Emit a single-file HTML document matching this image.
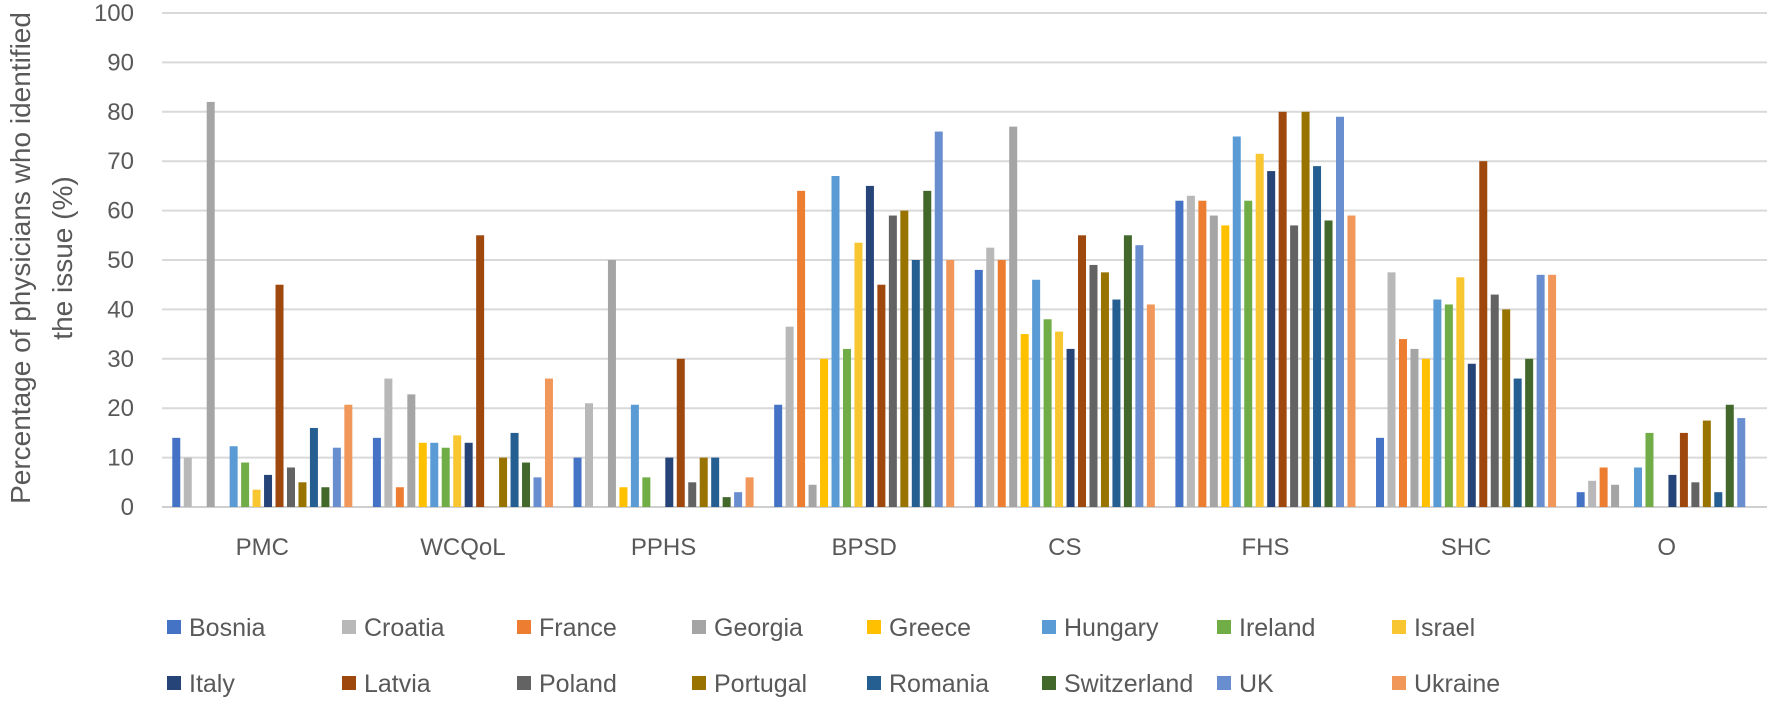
<!DOCTYPE html>
<html><head><meta charset="utf-8"><style>
html,body{margin:0;padding:0;background:#fff;}
svg{display:block;font-family:"Liberation Sans",sans-serif;}
</style></head><body>
<svg id="chart" width="1772" height="702" viewBox="0 0 1772 702" xmlns="http://www.w3.org/2000/svg">
<g id="grid"></g>
<g id="yticks"></g>
<g id="bars"></g>
<g id="xlabels"></g>
<g id="legend"></g>
<text transform="translate(40,258) rotate(-90)" text-anchor="middle" font-size="28" fill="#595959"><tspan x="0" y="-10">Percentage of physicians who identified</tspan><tspan x="0" y="32">the issue (%)</tspan></text>
</svg>
<script>
const categories = ["PMC","WCQoL","PPHS","BPSD","CS","FHS","SHC","O"];
const countries = ["Bosnia","Croatia","France","Georgia","Greece","Hungary","Ireland","Israel","Italy","Latvia","Poland","Portugal","Romania","Switzerland","UK","Ukraine"];
const colors = ["#4472C4","#B8B8B8","#ED7D31","#A5A5A5","#FFC000","#5B9BD5","#70AD47","#F8C631","#264478","#9E480E","#636363","#997300","#255E91","#43682B","#698ED0","#F1975A"];
const PMC   = [14,10,0,82,0,12.3,9,3.5,6.5,45,8,5,16,4,12,20.7];
const WCQoL = [14,26,4,22.8,13,13,12,14.5,13,55,0,10,15,9,6,26];
const PPHS  = [10,21,0,50,4,20.7,6,0,10,30,5,10,10,2,3,6];
const BPSD  = [20.7,36.5,64,4.5,30,67,32,53.5,65,45,59,60,50,64,76,50];
const CS    = [48,52.5,50,77,35,46,38,35.5,32,55,49,47.5,42,55,53,41];
const FHS   = [62,63,62,59,57,75,62,71.5,68,80,57,80,69,58,79,59];
const SHC   = [14,47.5,34,32,30,42,41,46.5,29,70,43,40,26,30,47,47];
const O     = [3,5.3,8,4.5,0,8,15,0,6.5,15,5,17.5,3,20.7,18,0];
const seriesByCategory = [PMC,WCQoL,PPHS,BPSD,CS,FHS,SHC,O];
const yTicks = [0,10,20,30,40,50,60,70,80,90,100];

const NS="http://www.w3.org/2000/svg";
const X0=162, X1=1767, Y0=507, Y100=13;
const groupW=(X1-X0)/categories.length;
const pitch=11.47, barW=8;
function y(v){return Y0-(Y0-Y100)*v/100;}
function xBar(ci,si){return X0+ci*groupW+(groupW-pitch*countries.length)/2+si*pitch+(pitch-barW)/2;}
function mk(tag,attrs,parent){const e=document.createElementNS(NS,tag);for(const k in attrs)e.setAttribute(k,attrs[k]);parent.appendChild(e);return e;}

const grid=document.getElementById('grid'), yt=document.getElementById('yticks');
yTicks.forEach(t=>{
  const l=mk('line',{x1:X0,x2:X1,y1:y(t),y2:y(t),stroke:t===0?'#cfcfcf':'#d9d9d9','stroke-width':2},grid);
  
  
  const tx=mk('text',{x:134,y:y(t)+8,'text-anchor':'end','font-size':24,fill:'#595959'},yt);
  tx.textContent=t;
  
  
});

const bars=document.getElementById('bars');
seriesByCategory.forEach((vals,ci)=>{
  vals.forEach((v,si)=>{
    if(v<=0) return;
    const r=mk('rect',{x:xBar(ci,si),y:y(v),width:barW,height:Y0-y(v),fill:colors[si]},bars);
    
    
  });
});

const xl=document.getElementById('xlabels');
categories.forEach((c,ci)=>{
  const t=mk('text',{x:X0+ci*groupW+groupW/2,y:555,'text-anchor':'middle','font-size':24,fill:'#595959'},xl);
  t.textContent=c;
  
  
});

const lg=document.getElementById('legend');
countries.forEach((c,i)=>{
  const row=Math.floor(i/8), col=i%8;
  const lx=167+col*175, ly=row===0?627:683;
  const g=mk('g',{},lg);
  
  
  mk('rect',{x:lx,y:ly-7,width:14,height:14,fill:colors[i]},g);
  const t=mk('text',{x:lx+22,y:ly+9,'font-size':25,fill:'#595959'},g);
  t.textContent=c;
});
</script>
</body></html>
